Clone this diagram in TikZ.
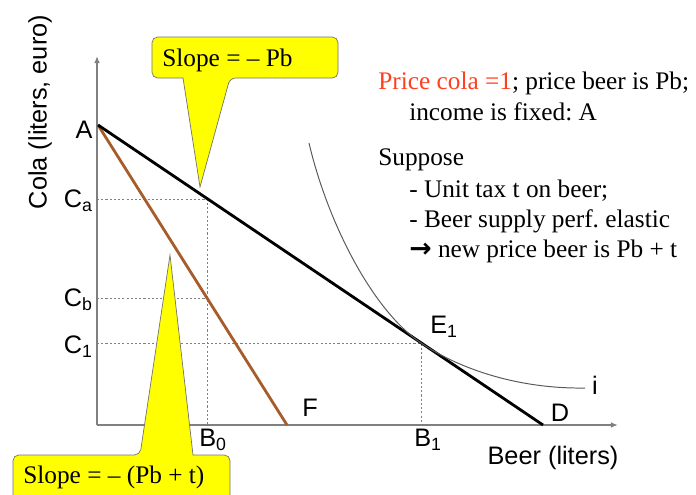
\documentclass[tikz,border=0pt]{standalone}
\usepackage{fontspec}
\setmainfont{Liberation Serif}
\setsansfont{Liberation Sans}
\newfontfamily\arrowfont{DejaVu Sans}
\frenchspacing
\usetikzlibrary{arrows.meta}
\definecolor{taxline}{RGB}{166,93,43}
\definecolor{notered}{RGB}{255,64,32}
\definecolor{calloutfill}{RGB}{255,255,0}
\begin{document}
\begin{tikzpicture}[x=0.025cm, y=-0.025cm,
  every node/.style={inner sep=0pt},
  axislbl/.style={font=\sffamily\fontsize{18}{21}\selectfont},
  note/.style={font=\fontsize{18}{21}\selectfont, anchor=base west},
  guide/.style={gray, line width=0.6pt, dash pattern=on 1.5pt off 1.5pt},
  callout/.style={fill=calloutfill, draw=black!55, line width=0.5pt},
  axisline/.style={gray, line width=1pt, -{Latex[length=5pt,width=4pt]}}]
  \clip (0,0) rectangle (696,494);
  \coordinate (O) at (97,425);
  \coordinate (Ytop) at (97,56);
  \coordinate (Xend) at (618,425);
  \coordinate (A) at (98,125);
  \coordinate (D) at (543,425);
  \coordinate (F) at (287,425);
  \coordinate (E1) at (421,343);
  \coordinate (Pa) at (207,199);
  \coordinate (Pb) at (207,298);
  \draw[axisline] (O) -- (Ytop);
  \draw[axisline] (O) -- (Xend);
  % guide lines
  \draw[guide] (O |- Pa) -- (Pa) -- (Pa |- O);
  \draw[guide] (O |- Pb) -- (Pb);
  \draw[guide] (O |- E1) -- (E1) -- (E1 |- O);
  % budget lines
  \draw[taxline, line width=2pt] (A) -- (F);
  \draw[line width=2pt] (A) -- (D);
  % indifference curve
  \draw[gray!70!black, line width=0.7pt] (309,143) .. controls (327,220) and (371,309) .. (E1)
    .. controls (461,370) and (520,389) .. (585,388);
  % callouts
  \draw[callout, rounded corners=4pt] (152,57) |- (338,37) |- (230,78) [sharp corners] -- (200,187)
    -- (183,78) [rounded corners=4pt] -| cycle;
  \node[note] (slopeA) at (162,66) {Slope = – Pb};
  \draw[callout, rounded corners=4pt] (13,475) |- (140,455) [sharp corners] -- (170,255)
    -- (193,455) [rounded corners=4pt] -| (230,505) -- (13,505) -- cycle;
  \node[note] (slopeF) at (23,483) {Slope = – (Pb + t)};
  % axis labels
  \node[axislbl] (lblA) at (84,130) {A};
  \node[axislbl, anchor=east] (lblCa) at (93,201) {C\textsubscript{a}};
  \node[axislbl, anchor=east] (lblCb) at (93,300) {C\textsubscript{b}};
  \node[axislbl, anchor=east] (lblC1) at (93,347) {C\textsubscript{1}};
  \node[axislbl, anchor=north west] (lblB0) at (199,429) {B\textsubscript{0}};
  \node[axislbl, anchor=north west] (lblB1) at (414,429) {B\textsubscript{1}};
  \node[axislbl] (lblF) at (310,408) {F};
  \node[axislbl] (lblD) at (560,413) {D};
  \node[axislbl] (lblE1) at (444,327) {E\textsubscript{1}};
  \node[axislbl] (lbli) at (595,385) {i};
  \node[axislbl] (lblBeer) at (553,458) {Beer (liters)};
  \node[axislbl, rotate=90] (lblCola) at (40,112) {Cola (liters, euro)};
  % notes
  \node[note] (note1) at (378,89) {\textcolor{notered}{Price cola =1}; price beer is Pb;};
  \node[note] (note2) at (409,120) {income is fixed: A};
  \node[note] (note3) at (378,165) {Suppose};
  \node[note] (note4) at (409,197) {- Unit tax t on beer;};
  \node[note] (note5) at (409,227) {- Beer supply perf. elastic};
  \node[note] (note6) at (409,257) {{\arrowfont\bfseries\fontsize{19}{21}\selectfont →} new price beer is Pb + t};
\end{tikzpicture}
\end{document}
